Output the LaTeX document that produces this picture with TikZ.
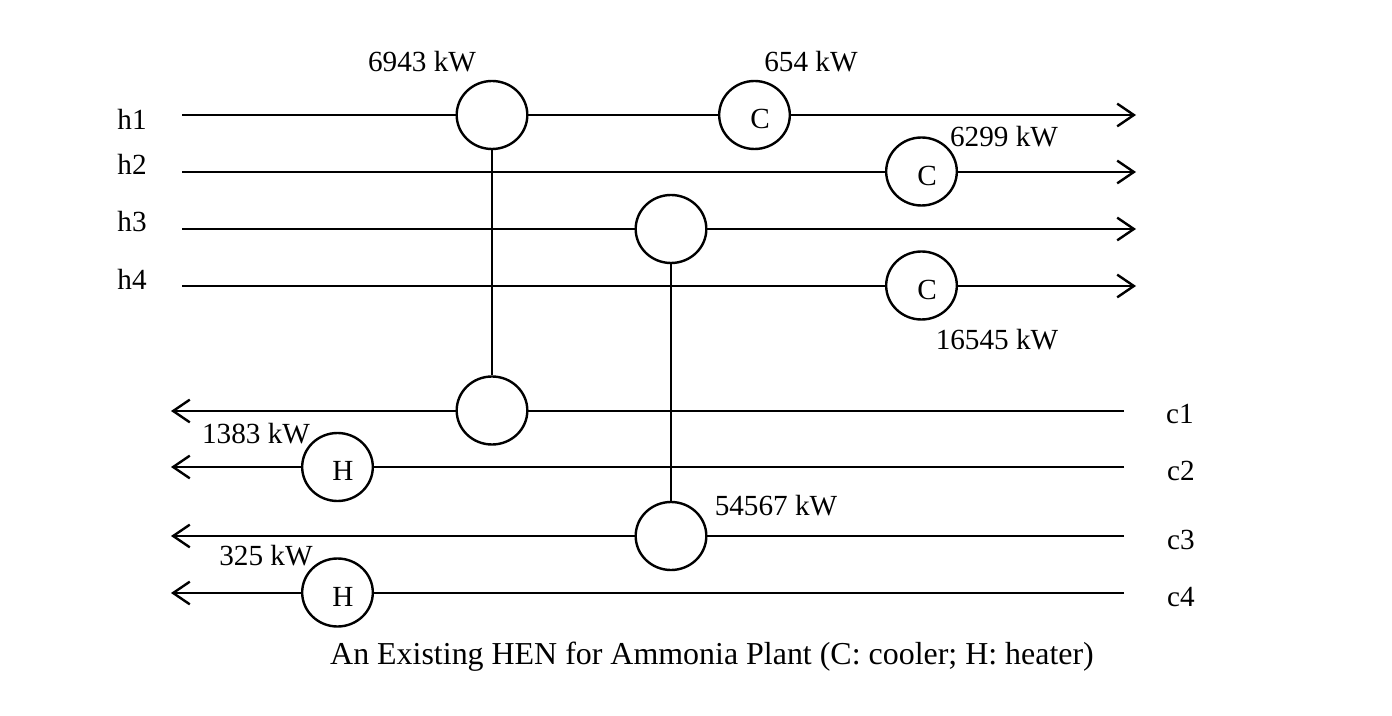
\documentclass[tikz,border=0pt]{standalone}
\usepackage{fontspec}
\setmainfont{Liberation Serif}
\usetikzlibrary{arrows.meta,shapes.geometric}
\tikzset{
 px/.style={x=0.75pt,y=-0.75pt},
 stream/.style={line width=1.8pt,black},
 flow/.style={stream,-{Straight Barb[length=12.5pt,width=17pt,line width=1.8pt]}},
 hx/.style={ellipse,draw=black,line width=1.8pt,fill=white,minimum width=53pt,minimum height=51pt,inner sep=0pt},
 lbl/.style={inner sep=0pt,font=\fontsize{21.9pt}{24pt}\selectfont,text=black}
}
\begin{document}
\begin{tikzpicture}[px]
\useasboundingbox (0,0) rectangle (1392,716);
\coordinate (h1s) at (182,115); \coordinate (h1e) at (1136,115);
\coordinate (h2s) at (182,172); \coordinate (h2e) at (1136,172);
\coordinate (h3s) at (182,229); \coordinate (h3e) at (1136,229);
\coordinate (h4s) at (182,286); \coordinate (h4e) at (1136,286);
\coordinate (c1s) at (1124,411); \coordinate (c1e) at (171,411);
\coordinate (c2s) at (1124,467); \coordinate (c2e) at (171,467);
\coordinate (c3s) at (1124,536); \coordinate (c3e) at (171,536);
\coordinate (c4s) at (1124,593); \coordinate (c4e) at (171,593);
\draw[flow] (h1s) -- (h1e);
\draw[flow] (h2s) -- (h2e);
\draw[flow] (h3s) -- (h3e);
\draw[flow] (h4s) -- (h4e);
\draw[flow] (c1s) -- (c1e);
\draw[flow] (c2s) -- (c2e);
\draw[flow] (c3s) -- (c3e);
\draw[flow] (c4s) -- (c4e);
\node[hx] (x1) at (492,115) {};
\node[hx] (x1b) at (492,410.5) {};
\node[hx] (x2) at (671,229) {};
\node[hx] (x2b) at (671,536) {};
\node[hx] (ca) at (754.5,115) {};
\node[hx] (cb) at (921.5,171.5) {};
\node[hx] (cc) at (921.5,285.5) {};
\node[hx] (ha) at (337.5,467) {};
\node[hx] (hb) at (337.5,592.5) {};
\draw[stream] (x1) -- (x1b);
\draw[stream] (x2) -- (x2b);
\node[lbl] (la) at (760,119) {C};
\node[lbl] (lb) at (927,176) {C};
\node[lbl] (lc) at (927,290) {C};
\node[lbl] (ld) at (343,471) {H};
\node[lbl] (le) at (343,597) {H};
\node[lbl] (t1) at (132,119) {h1};
\node[lbl] (t2) at (132,164) {h2};
\node[lbl] (t3) at (132,222) {h3};
\node[lbl] (t4) at (132,279) {h4};
\node[lbl] (t5) at (1180,414) {c1};
\node[lbl] (t6) at (1181,471) {c2};
\node[lbl] (t7) at (1181,540) {c3};
\node[lbl] (t8) at (1181,597) {c4};
\node[lbl] (q1) at (422,62) {6943 kW};
\node[lbl] (q2) at (811,62) {654 kW};
\node[lbl] (q3) at (1004,137) {6299 kW};
\node[lbl] (q4) at (997,340) {16545 kW};
\node[lbl] (q5) at (256,434) {1383 kW};
\node[lbl] (q6) at (776,506) {54567 kW};
\node[lbl] (q7) at (266,556) {325 kW};
\node[lbl,font=\fontsize{23.95pt}{26pt}\selectfont] (cap) at (712,657) {An Existing HEN for Ammonia Plant (C: cooler; H: heater)};
\end{tikzpicture}
\end{document}
